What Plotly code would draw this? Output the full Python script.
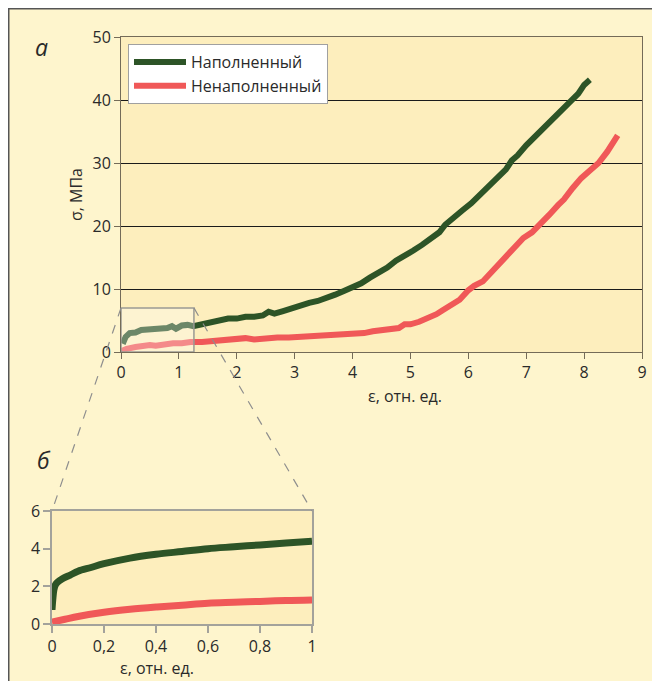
import plotly.graph_objects as go

# ---- data ----
filled_x = [0.03, 0.08, 0.15, 0.25, 0.35, 0.5, 0.65, 0.8, 0.88, 0.95, 1.05, 1.15, 1.25, 1.4, 1.55, 1.7,
            1.85, 2.0, 2.15, 2.3, 2.45, 2.55, 2.65, 2.8, 2.95, 3.1, 3.25, 3.4, 3.55, 3.7, 3.85, 4.0,
            4.15, 4.3, 4.45, 4.6, 4.75, 4.9, 5.05, 5.2, 5.35, 5.5, 5.6, 5.75, 5.9, 6.05, 6.2, 6.35,
            6.5, 6.65, 6.75, 6.85, 7.0, 7.15, 7.3, 7.45, 7.6, 7.75, 7.9, 8.0, 8.1]
filled_y = [1.3, 2.4, 3.0, 3.1, 3.5, 3.6, 3.7, 3.8, 4.1, 3.7, 4.2, 4.3, 4.1, 4.4, 4.6, 4.9,
            5.3, 5.3, 5.6, 5.6, 5.8, 6.4, 6.1, 6.5, 7.0, 7.3, 7.8, 8.1, 8.5, 9.1, 9.7, 10.3,
            10.9, 11.8, 12.6, 13.4, 14.5, 15.2, 16.1, 17.0, 18.0, 19.0, 20.2, 21.5, 22.5, 23.6, 25.0, 26.4,
            27.6, 29.0, 30.4, 31.2, 32.8, 34.2, 35.6, 36.9, 38.3, 39.6, 41.0, 42.4, 43.2]

unfilled_x = [0.0, 0.1, 0.25, 0.4, 0.5, 0.6, 0.75, 0.9, 1.05, 1.2, 1.4, 1.6, 1.8, 2.0, 2.15, 2.3,
              2.5, 2.7, 2.9, 3.1, 3.3, 3.5, 3.7, 3.9, 4.05, 4.2, 4.35, 4.5, 4.65, 4.8, 4.9, 5.0,
              5.15, 5.3, 5.45, 5.55, 5.7, 5.85, 6.0, 6.1, 6.25, 6.35, 6.5, 6.6, 6.7, 6.85, 6.95,
              7.1, 7.25, 7.4, 7.55, 7.65, 7.8, 7.95, 8.1, 8.25, 8.4, 8.5, 8.58]
unfilled_y = [0.1, 0.5, 0.8, 1.0, 1.1, 1.0, 1.3, 1.4, 1.4, 1.6, 1.6, 1.7, 1.9, 1.9, 2.2, 2.0,
              2.2, 2.3, 2.3, 2.4, 2.5, 2.6, 2.7, 2.8, 2.9, 3.0, 3.3, 3.4, 3.7, 3.8, 4.4, 4.4,
              4.8, 5.3, 6.0, 6.6, 7.4, 8.3, 9.8, 10.5, 11.2, 12.2, 13.5, 14.6, 15.4, 17.0, 18.1,
              19.0, 20.3, 21.8, 23.3, 24.2, 26.0, 27.6, 28.8, 30.0, 31.8, 33.2, 34.4]

inset_filled_x = [0.0, 0.003, 0.007, 0.012, 0.02, 0.04, 0.07, 0.1, 0.15, 0.2, 0.3, 0.4, 0.5, 0.6, 0.7, 0.8, 0.9, 1.0]
inset_filled_y = [0.75, 1.3, 1.8, 2.05, 2.2, 2.4, 2.6, 2.8, 3.0, 3.2, 3.5, 3.7, 3.85, 4.0, 4.1, 4.2, 4.3, 4.4]

inset_unfilled_x = [0.0, 0.05, 0.1, 0.2, 0.3, 0.4, 0.5, 0.6, 0.7, 0.8, 0.9, 1.0]
inset_unfilled_y = [0.1, 0.25, 0.4, 0.62, 0.78, 0.9, 1.0, 1.1, 1.15, 1.2, 1.25, 1.28]

names = ["Наполненный", "Ненаполненный"]
main_x_ticks = [0, 1, 2, 3, 4, 5, 6, 7, 8, 9]
main_y_ticks = [0, 10, 20, 30, 40, 50]
inset_x_ticks = [0, 0.2, 0.4, 0.6, 0.8, 1]
inset_x_labels = ["0", "0,2", "0,4", "0,6", "0,8", "1"]
inset_y_ticks = [0, 2, 4, 6]
zoom_box_x = [0, 1.26]
zoom_box_y = [0, 7]

# ---- layout geometry (page pixels; figure sits 8 px from page edge) ----
W, H = 660, 681
OFF = 8


def px(x):
    return (x - OFF) / W


def py(y):
    return 1 - (y - OFF) / H


main_xdom = [px(121), px(642)]
main_ydom = [py(352), py(37)]
main_xr = [0, 9]
main_yr = [0, 50]
ins_xdom = [px(52), px(312)]
ins_ydom = [py(624), py(511)]
ins_xr = [0, 1]
ins_yr = [0, 6]


def to_paper(v, dom, rng):
    return dom[0] + (v - rng[0]) / (rng[1] - rng[0]) * (dom[1] - dom[0])


GREEN = "#2d5427"
RED = "#f05858"
FONT = "Open Sans"
AXIS_C = "#746b58"
INS_C = "#a3a29b"
TXT = "#2a2a2a"

fig = go.Figure()
fig.add_trace(go.Scatter(x=filled_x, y=filled_y, mode="lines", name=names[0],
                         line=dict(color=GREEN, width=6), xaxis="x", yaxis="y"))
fig.add_trace(go.Scatter(x=unfilled_x, y=unfilled_y, mode="lines", name=names[1],
                         line=dict(color=RED, width=6), xaxis="x", yaxis="y"))
fig.add_trace(go.Scatter(x=inset_filled_x, y=inset_filled_y, mode="lines", showlegend=False,
                         line=dict(color=GREEN, width=7, shape="spline"), xaxis="x2", yaxis="y2",
                         cliponaxis=False))
fig.add_trace(go.Scatter(x=inset_unfilled_x, y=inset_unfilled_y, mode="lines", showlegend=False,
                         line=dict(color=RED, width=7, shape="spline"), xaxis="x2", yaxis="y2",
                         cliponaxis=False))

shapes = []
# outer frame (left and top edges visible)
shapes.append(dict(type="rect", xref="paper", yref="paper", x0=0, x1=1.02, y0=-0.02, y1=1,
                   fillcolor="rgba(0,0,0,0)", line=dict(color="#555555", width=3), layer="below"))
# plot backgrounds
shapes.append(dict(type="rect", xref="paper", yref="paper", x0=main_xdom[0], x1=main_xdom[1],
                   y0=main_ydom[0], y1=main_ydom[1], fillcolor="#fdeebd", line=dict(width=0), layer="below"))
shapes.append(dict(type="rect", xref="paper", yref="paper", x0=ins_xdom[0], x1=ins_xdom[1],
                   y0=ins_ydom[0], y1=ins_ydom[1], fillcolor="#fdeebd", line=dict(width=0), layer="below"))
# zoom box on main plot
shapes.append(dict(type="rect", xref="x", yref="y", x0=zoom_box_x[0], x1=zoom_box_x[1],
                   y0=zoom_box_y[0], y1=zoom_box_y[1], fillcolor="rgba(255,255,255,0.3)",
                   line=dict(color="#9a9a94", width=1.5), layer="above"))
# connector dashed lines
for bx, ix in [(zoom_box_x[0], ins_xr[0]), (zoom_box_x[1], ins_xr[1])]:
    shapes.append(dict(type="line", xref="paper", yref="paper",
                       x0=to_paper(bx, main_xdom, main_xr), y0=to_paper(zoom_box_y[1], main_ydom, main_yr),
                       x1=to_paper(ix, ins_xdom, ins_xr), y1=to_paper(ins_yr[1], ins_ydom, ins_yr),
                       line=dict(color="#8e8e8e", width=1.2, dash="dash")))

annotations = [
    dict(text="<i>а</i>", x=px(41), y=py(47), xref="paper", yref="paper", showarrow=False,
         font=dict(family=FONT, size=23, color=TXT), xanchor="center", yanchor="middle"),
    dict(text="<i>б</i>", x=px(44), y=py(460), xref="paper", yref="paper", showarrow=False,
         font=dict(family=FONT, size=23, color=TXT), xanchor="center", yanchor="middle"),
    dict(text="ε, отн. ед.", x=px(405), y=py(396), xref="paper", yref="paper", showarrow=False,
         font=dict(family=FONT, size=16, color=TXT), xanchor="center", yanchor="middle"),
    dict(text="ε, отн. ед.", x=px(157), y=py(668), xref="paper", yref="paper", showarrow=False,
         font=dict(family=FONT, size=16, color=TXT), xanchor="center", yanchor="middle"),
    dict(text="σ, МПа", x=px(76), y=py(195), xref="paper", yref="paper", showarrow=False,
         textangle=-90, font=dict(family=FONT, size=16, color=TXT), xanchor="center", yanchor="middle"),
]

axis_common = dict(automargin=False, zeroline=False, showline=True, mirror=True, ticks="outside",
                   fixedrange=True, tickfont=dict(family=FONT, size=16, color=TXT))

fig.update_layout(
    template="none",
    width=W, height=H,
    margin=dict(l=0, r=0, t=0, b=0, autoexpand=False),
    paper_bgcolor="#fef5cd",
    plot_bgcolor="rgba(0,0,0,0)",
    font=dict(family=FONT, size=16, color=TXT),
    shapes=shapes,
    annotations=annotations,
    showlegend=True,
    legend=dict(x=px(128), y=py(44), xanchor="left", yanchor="top", bgcolor="white",
                bordercolor="#a0a0a0", borderwidth=1, font=dict(family=FONT, size=16, color=TXT),
                tracegroupgap=0, itemwidth=52),
    xaxis=dict(domain=main_xdom, range=main_xr, tickvals=main_x_ticks, showgrid=False,
               linecolor=AXIS_C, linewidth=1, ticklen=6, tickcolor=AXIS_C, anchor="y", **axis_common),
    yaxis=dict(domain=main_ydom, range=main_yr, tickvals=main_y_ticks, showgrid=True, gridcolor="#1a1a1a",
               gridwidth=1, linecolor=AXIS_C, linewidth=1, ticklen=6, tickcolor=AXIS_C, anchor="x",
               **axis_common),
    xaxis2=dict(domain=ins_xdom, range=ins_xr, tickvals=inset_x_ticks, ticktext=inset_x_labels,
                showgrid=False, linecolor=INS_C, linewidth=1.5, ticklen=7, tickcolor=INS_C, tickwidth=1.5,
                anchor="y2", **axis_common),
    yaxis2=dict(domain=ins_ydom, range=ins_yr, tickvals=inset_y_ticks, showgrid=False,
                linecolor=INS_C, linewidth=1.5, ticklen=7, tickcolor=INS_C, tickwidth=1.5, anchor="x2",
                **axis_common),
)

fig.write_html("out.html")
